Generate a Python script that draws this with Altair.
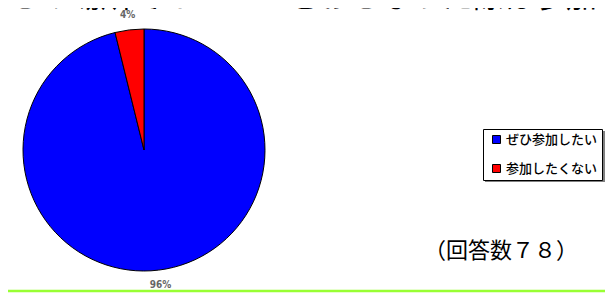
import altair as alt
import pandas as pd

categories = ["ぜひ参加したい", "参加したくない"]
counts = [75, 3]
pct_labels = ["96%", "4%"]
colors = ["#0000ff", "#ff0000"]
title_text = "この場所でイベントをおこなった際は参加しますか？"
note_text = "（回答数７８）"

df = pd.DataFrame({"cat": categories, "n": counts, "lab": pct_labels, "ord": [0, 1]})

CX, CY, R = 136, 142, 121

base = alt.Chart(df).encode(
    theta=alt.Theta("n:Q", stack=True),
    order=alt.Order("ord:Q"),
)

pie = base.mark_arc(outerRadius=R, stroke="black", strokeWidth=1).encode(
    x=alt.value(CX), y=alt.value(CY),
    color=alt.Color(
        "cat:N",
        scale=alt.Scale(domain=categories, range=colors),
        legend=alt.Legend(
            title=None, orient="none", legendX=475, legendY=121,
            fillColor="white", strokeColor="black", padding=4,
            symbolType="square", symbolSize=64, symbolStrokeColor="black",
            symbolStrokeWidth=1, symbolOffset=3,
            labelFont="Noto Sans CJK JP", labelFontSize=13,
            labelFontWeight=500, labelColor="black", rowPadding=15,
            labelOffset=3, labelLimit=200,
        ),
    ),
)

labels = base.mark_text(
    radius=136, font="DejaVu Sans Condensed", fontSize=10, fontWeight="bold",
    color="#666666", align="center", baseline="middle",
).encode(x=alt.value(CX), y=alt.value(CY), text="lab:N")

shadow = alt.Chart(pd.DataFrame({"a": [0]})).mark_rect(color="#808080").encode(
    x=alt.value(477), x2=alt.value(597), y=alt.value(123), y2=alt.value(174)
)

green = alt.Chart(pd.DataFrame({"a": [0]})).mark_rule(color="#99ff33", strokeWidth=2.5).encode(
    x=alt.value(0), x2=alt.value(597), y=alt.value(283)
)

title = alt.Chart(pd.DataFrame({"t": [title_text]})).mark_text(
    font="Noto Sans CJK JP", fontSize=31, align="left", baseline="alphabetic", color="black"
).encode(x=alt.value(0), y=alt.value(-1), text="t:N")

note = alt.Chart(pd.DataFrame({"t": [note_text]})).mark_text(
    font="Noto Sans CJK JP", fontSize=22, align="center", baseline="middle", color="black"
).encode(x=alt.value(493), y=alt.value(243), text="t:N")

chart = alt.layer(shadow, pie, labels, green, title, note).properties(
    width=597, height=285, autosize=alt.AutoSizeParams(type="none"), padding=0,
    background="white",
).configure_view(stroke=None)

chart.save("out.html", embed_options={"renderer": "svg", "actions": False})
